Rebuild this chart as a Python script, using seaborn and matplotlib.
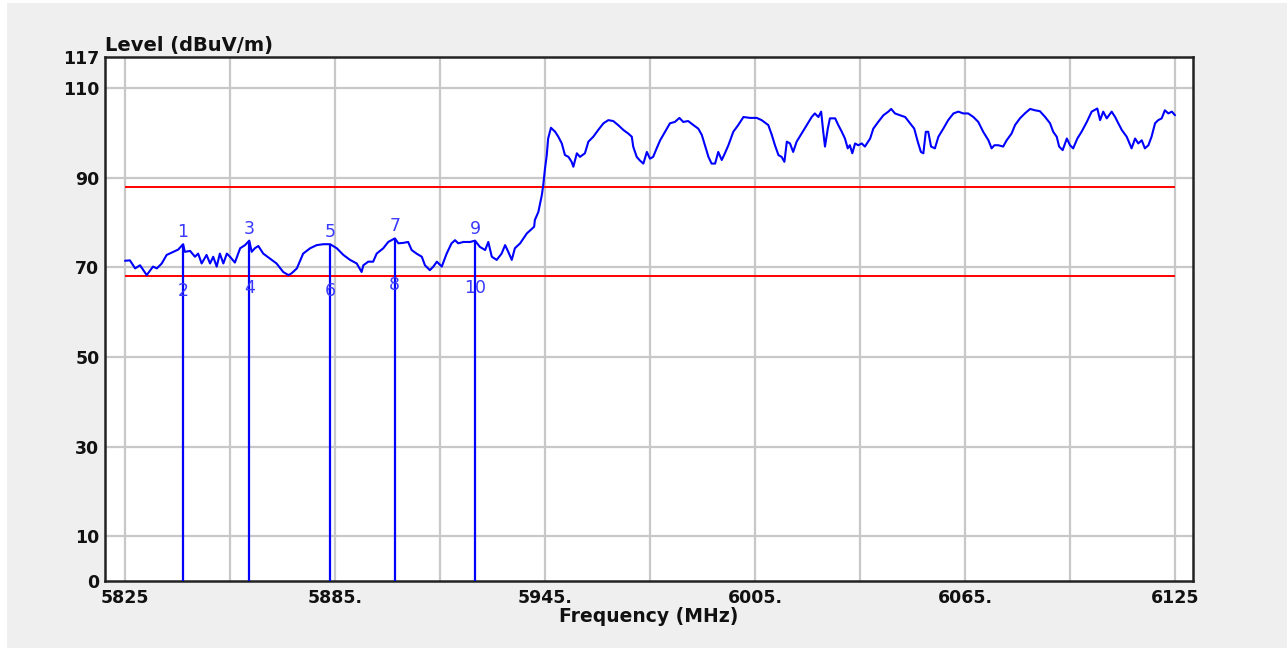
import numpy as np
import pandas as pd
import matplotlib
matplotlib.use("Agg")
import matplotlib.pyplot as plt
import seaborn as sns
from matplotlib.patches import Rectangle

# ---------------- data ----------------
freq_mhz = [
    5825.0, 5826.4, 5827.9, 5829.3, 5831.2, 5833.0, 5834.1, 5835.5, 5836.9, 5838.8,
    5840.2, 5841.6, 5842.1, 5843.6, 5845.0, 5845.9, 5846.9, 5848.3, 5849.3, 5850.2,
    5851.2, 5852.1, 5853.1, 5854.1, 5855.0, 5856.4, 5857.9, 5859.3, 5860.5, 5861.2,
    5862.1, 5863.1, 5864.5, 5866.4, 5868.3, 5870.2, 5871.7, 5872.6, 5874.1, 5875.9,
    5877.9, 5879.8, 5881.7, 5883.6, 5885.5, 5887.4, 5889.3, 5891.2, 5892.6, 5893.1,
    5894.5, 5895.9, 5896.9, 5898.8, 5900.2, 5902.1, 5903.1, 5904.5, 5905.9, 5906.9,
    5908.3, 5909.8, 5910.7, 5912.1, 5913.1, 5914.1, 5915.5, 5916.9, 5918.3, 5919.3,
    5920.2, 5921.7, 5923.6, 5925.0, 5926.4, 5927.9, 5928.8, 5929.8, 5931.2, 5932.6,
    5933.6, 5934.5, 5935.5, 5936.4, 5937.9, 5939.8, 5941.9, 5942.1, 5943.1, 5944.1,
    5944.5, 5945.0, 5945.5, 5945.9, 5946.7, 5947.9, 5948.8, 5949.8, 5950.7, 5951.7,
    5952.6, 5953.1, 5954.1, 5955.0, 5956.4, 5957.4, 5958.8, 5960.2, 5961.7, 5963.1,
    5964.5, 5965.9, 5967.4, 5968.8, 5969.8, 5970.2, 5971.2, 5972.1, 5973.1, 5974.1,
    5975.0, 5975.9, 5976.9, 5977.9, 5979.3, 5980.7, 5982.1, 5983.4, 5984.5, 5985.9,
    5987.4, 5988.8, 5989.8, 5990.7, 5991.7, 5992.6, 5993.6, 5994.5, 5995.5, 5996.4,
    5997.4, 5998.8, 6000.2, 6001.7, 6003.6, 6005.5, 6006.9, 6008.8, 6009.8, 6010.7,
    6011.7, 6012.6, 6013.4, 6014.1, 6015.0, 6015.9, 6016.9, 6018.3, 6019.8, 6021.2,
    6022.1, 6023.1, 6023.9, 6024.5, 6025.0, 6025.8, 6026.4, 6027.9, 6028.8, 6029.8,
    6030.7, 6031.5, 6032.1, 6032.8, 6033.6, 6034.5, 6035.5, 6036.4, 6037.9, 6038.8,
    6040.2, 6041.7, 6043.1, 6043.9, 6045.0, 6046.4, 6047.9, 6049.3, 6050.5, 6051.5,
    6052.4, 6053.1, 6053.8, 6054.5, 6055.3, 6056.4, 6057.4, 6058.8, 6060.2, 6061.7,
    6063.1, 6064.5, 6065.9, 6067.4, 6068.8, 6070.2, 6071.7, 6072.6, 6073.4, 6074.5,
    6075.9, 6076.9, 6078.3, 6079.3, 6080.7, 6082.1, 6083.6, 6085.0, 6086.4, 6087.9,
    6089.3, 6090.2, 6091.2, 6091.9, 6092.9, 6094.1, 6095.0, 6095.9, 6097.1, 6098.3,
    6099.8, 6101.2, 6102.8, 6103.6, 6104.5, 6105.5, 6106.9, 6107.9, 6108.8, 6109.8,
    6111.2, 6112.6, 6113.6, 6114.5, 6115.5, 6116.4, 6117.4, 6118.3, 6119.3, 6120.2,
    6121.2, 6122.1, 6123.1, 6124.1, 6125.0,
]
level_dbuv = [
    71.5, 71.6, 69.8, 70.5, 68.3, 70.2, 69.8, 70.9, 72.8, 73.5,
    74.0, 75.2, 73.5, 73.7, 72.4, 73.1, 70.9, 72.8, 70.9, 72.4,
    70.2, 73.1, 70.9, 73.1, 72.4, 71.1, 74.3, 75.0, 76.0, 73.5,
    74.3, 74.8, 73.1, 72.0, 70.9, 69.0, 68.3, 68.7, 69.8, 73.1,
    74.3, 75.0, 75.2, 75.2, 74.3, 72.8, 71.7, 70.9, 69.0, 70.5,
    71.3, 71.3, 73.1, 74.3, 75.7, 76.5, 75.4, 75.5, 75.7, 73.9,
    73.1, 72.4, 70.5, 69.4, 70.2, 71.3, 70.2, 73.1, 75.4, 76.1,
    75.4, 75.7, 75.7, 76.0, 74.6, 73.9, 75.7, 72.4, 71.7, 73.1,
    75.0, 73.5, 71.7, 74.3, 75.4, 77.6, 79.1, 80.6, 82.4, 86.2,
    88.4, 92.1, 95.1, 98.8, 101.2, 100.3, 99.2, 97.7, 95.1, 94.7,
    93.6, 92.5, 95.5, 94.7, 95.5, 98.1, 99.2, 100.7, 102.2, 102.9,
    102.7, 101.8, 100.7, 99.9, 99.2, 97.0, 94.7, 93.9, 93.2, 95.8,
    94.3, 94.7, 96.6, 98.4, 100.3, 102.2, 102.5, 103.4, 102.5, 102.7,
    101.8, 101.0, 99.6, 97.3, 94.7, 93.2, 93.2, 95.8, 94.0, 95.5,
    97.3, 100.3, 101.8, 103.6, 103.4, 103.4, 102.9, 101.8, 99.6, 97.3,
    95.1, 94.7, 93.6, 98.1, 97.7, 95.8, 98.1, 99.9, 101.8, 103.6,
    104.4, 103.6, 104.8, 100.3, 97.0, 101.0, 103.3, 103.3, 101.8, 100.3,
    98.8, 96.6, 97.3, 95.5, 97.7, 97.3, 97.7, 97.0, 98.8, 101.0,
    102.5, 104.0, 104.8, 105.4, 104.4, 104.0, 103.6, 102.2, 101.0, 98.1,
    95.8, 95.5, 100.3, 100.3, 97.0, 96.6, 99.2, 101.0, 102.9, 104.4,
    104.8, 104.4, 104.4, 103.6, 102.5, 100.3, 98.4, 96.6, 97.3, 97.3,
    97.0, 98.4, 99.9, 101.8, 103.3, 104.4, 105.4, 105.1, 104.9, 103.6,
    102.2, 100.3, 99.2, 97.0, 96.2, 98.8, 97.3, 96.6, 98.8, 100.3,
    102.5, 104.8, 105.5, 102.9, 104.8, 103.3, 104.8, 103.6, 102.2, 100.7,
    99.2, 96.6, 98.8, 97.7, 98.4, 96.6, 97.3, 99.2, 102.2, 102.9,
    103.3, 105.1, 104.4, 104.8, 104.0,
]

marker_freq = [5841.6, 5860.5, 5883.7, 5902.1, 5925.0]
marker_level = [75.2, 76.0, 75.2, 76.5, 76.0]
marker_upper_labels = ["1", "3", "5", "7", "9"]
marker_lower_labels = ["2", "4", "6", "8", "10"]

limit_levels = [88.0, 68.0]

x_ticks = [5825, 5885, 5945, 6005, 6065, 6125]
x_tick_labels = ["5825", "5885.", "5945.", "6005.", "6065.", "6125"]
x_grid = [5825, 5855, 5885, 5915, 5945, 5975, 6005, 6035, 6065, 6095, 6125]
y_ticks = [0, 10, 30, 50, 70, 90, 110, 117]
y_tick_labels = ["0", "10", "30", "50", "70", "90", "110", "117"]
y_grid = [10, 30, 50, 70, 90, 110]

df = pd.DataFrame({"Frequency (MHz)": freq_mhz, "Level (dBuV/m)": level_dbuv})

# ---------------- figure ----------------
sns.set_style("white")
plt.rcParams["font.family"] = ["DejaVu Sans"]

W, H = 1287, 648
fig = plt.figure(figsize=(W / 100, H / 100), dpi=100, facecolor="white")
fig.patches.append(Rectangle((7 / W, 0), 1 - 7 / W, 1 - 3 / H, transform=fig.transFigure,
                             facecolor="#efefef", edgecolor="none", zorder=-10))

ax = fig.add_axes([105 / W, 1 - 581 / H, (1193 - 105) / W, (581 - 57) / H])
ax.set_facecolor("white")

x_lo = 5825 - 20 / 3.5
x_hi = 6125 + 18 / 3.5
ax.set_xlim(x_lo, x_hi)
ax.set_ylim(0, 117)

# grid
for gx in x_grid:
    ax.axvline(gx, color="#c8c8c8", lw=1.6, zorder=0)
for gy in y_grid:
    ax.axhline(gy, color="#c8c8c8", lw=1.6, zorder=0)

# limit lines
ax.hlines(limit_levels, x_grid[0], x_grid[-1], colors="#ff0000", lw=1.4, zorder=2)

# trace
sns.lineplot(data=df, x="Frequency (MHz)", y="Level (dBuV/m)", ax=ax, sort=False,
             estimator=None, color="#0000ff", lw=1.5, zorder=3)

# markers
ax.vlines(marker_freq, 0, marker_level, colors="#0000ff", lw=1.6, zorder=3)
for f, lv, up, lo in zip(marker_freq, marker_level, marker_upper_labels, marker_lower_labels):
    ax.annotate(up, (f, lv), xytext=(0, 3), textcoords="offset pixels",
                ha="center", va="bottom", color="#3a3aff", fontsize=12.5)
    ax.annotate(lo, (f, lv), xytext=(0, -47), textcoords="offset pixels",
                ha="center", va="center", color="#3a3aff", fontsize=12.5)

# ticks
ax.set_xticks(x_ticks)
ax.set_xticklabels(x_tick_labels, fontsize=12.5, fontweight="bold", color="#111111")
ax.set_yticks(y_ticks)
ax.set_yticklabels(y_tick_labels, fontsize=12.5, fontweight="bold", color="#111111")
ax.tick_params(axis="both", length=0)
ax.tick_params(axis="x", pad=6)
ax.tick_params(axis="y", pad=4)

ax.set_xlabel("Frequency (MHz)", fontsize=13.5, fontweight="bold", color="#111111", labelpad=0)
ax.set_ylabel("")
ax.text(0, 1.003, "Level (dBuV/m)", transform=ax.transAxes, ha="left", va="bottom",
        fontsize=14, fontweight="bold", color="#111111")

for side, sp in ax.spines.items():
    sp.set_visible(True)
    sp.set_color("#222222")
    sp.set_linewidth(1.8)

fig.savefig("out.png", dpi=100, facecolor=fig.get_facecolor())
